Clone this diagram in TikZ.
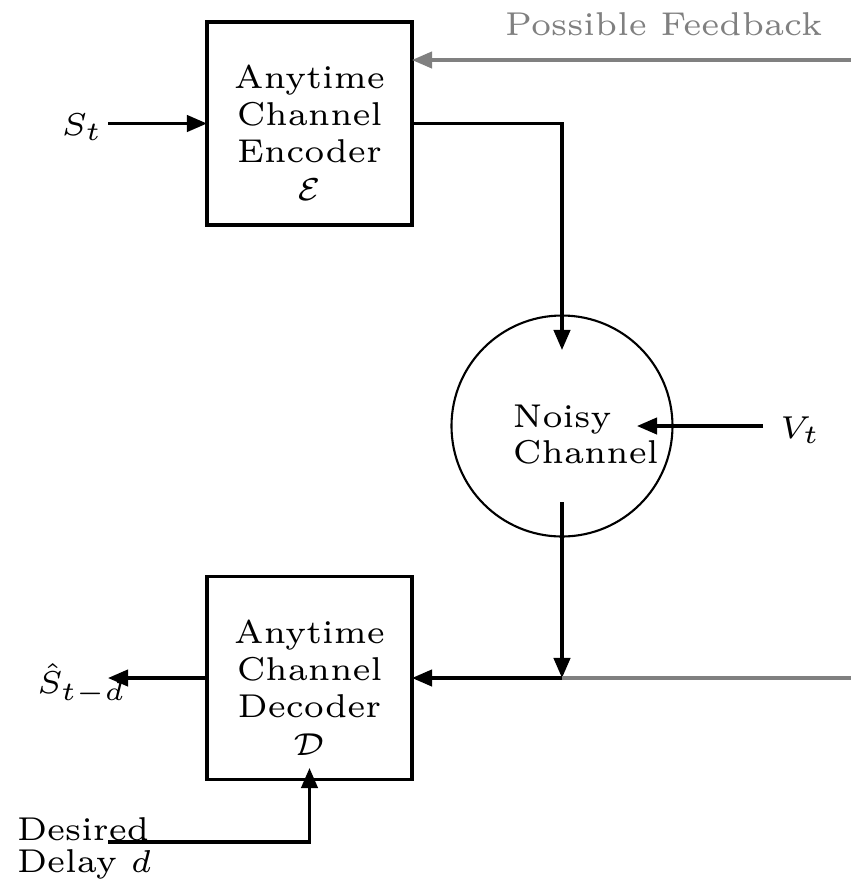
\documentclass[tikz,border=0pt]{standalone}
\usetikzlibrary{arrows.meta}
\definecolor{fbgray}{RGB}{128,128,128}
\begin{document}
\begin{tikzpicture}[x=0.1894pt,y=-0.1894pt,
  every node/.style={font=\fontsize{6.25}{7.2}\selectfont, inner sep=0pt, outer sep=0pt},
  blk/.style={draw, line width=0.75pt, minimum width=38.83pt, minimum height=38.45pt},
  chan/.style={draw, circle, line width=0.4pt, minimum size=41.86pt},
  blktext/.style={align=center, anchor=north, font=\fontsize{6.25}{7.07}\selectfont},
  conn/.style={line width=0.6pt, -{Triangle[length=3.8pt,width=3.1pt]}},
  wire/.style={line width=0.6pt},
  fbk/.style={draw=fbgray, line width=0.6pt},
  fbkarr/.style={fbk, -{Triangle[length=3.8pt,width=3.1pt]}}
]
\useasboundingbox (0,0) rectangle (851,886);

% blocks
\node[blk] (enc) at (309.5,123.5) {};
\node[blktext] (enctext) at (309.5,64.5) {Anytime\\Channel\\Encoder\\$\mathcal{E}$};
\node[blk] (dec) at (309.5,678) {};
\node[blktext] (dectext) at (309.5,619.5) {Anytime\\Channel\\Decoder\\$\mathcal{D}$};
\node[chan] (ch) at (562,426) {};
\node[align=left, anchor=north west, font=\fontsize{6.25}{6.82}\selectfont] (chtext) at (513,404.5) {Noisy\\Channel};

% labels
\node[anchor=base east] (st) at (103,135) {$S_t$};
\node[anchor=base west] (vt) at (780,438) {$V_t$};
\node[anchor=base west] (sh) at (37,693) {$\hat{S}_{t-d}$};
\node[anchor=north west, align=left, font=\fontsize{6.25}{6.06}\selectfont] (dd) at (17,818) {Desired\\Delay $d$};
\node[anchor=base west, text=fbgray] (fbl) at (505,35) {Possible Feedback};

% coordinates
\coordinate (stend) at (108,123.5);
\coordinate (chin) at (562,350);
\coordinate (chout) at (562,502);
\coordinate (jn) at (562,678);
\coordinate (rend) at (851,678);
\coordinate (fbstart) at (851,60);
\coordinate (vstart) at (763,426);
\coordinate (vend) at (637,426);
\coordinate (shend) at (108,678);
\coordinate (dstart) at (108,842);
\coordinate (dtip) at (309.5,768);

% connectors
\draw[conn] (stend) -- (enc.west);
\draw[conn] (enc.east) -| (chin);
\draw[conn] (vstart) -- (vend);
\draw[conn] (chout) -- (jn);
\draw[fbk] (jn) -- (rend);
\draw[conn] (jn) -- (dec.east);
\draw[conn] (dec.west) -- (shend);
\draw[conn] (dstart) -| (dtip);
\draw[fbkarr] (fbstart) -- (enc.east |- fbstart);
\end{tikzpicture}
\end{document}
